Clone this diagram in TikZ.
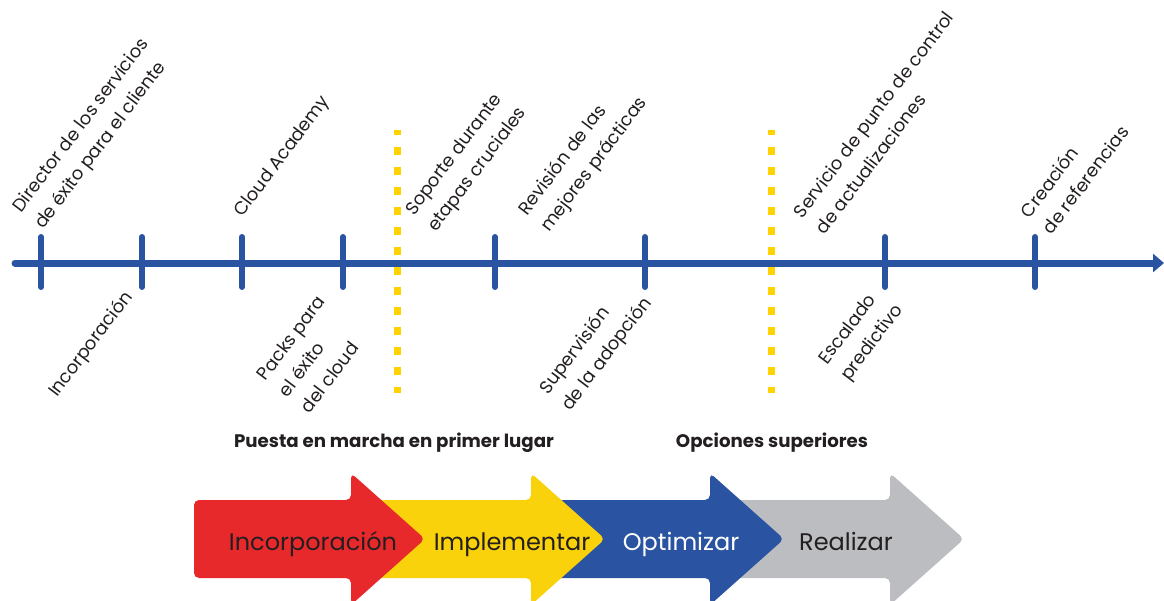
\documentclass[tikz,border=0pt]{standalone}
\usepackage{fontspec}
\setmainfont{Poppins}
\usetikzlibrary{arrows.meta}

\definecolor{tlblue}{HTML}{2A53A1}
\definecolor{tlred}{HTML}{E8292C}
\definecolor{tlyellow}{HTML}{FAD20C}
\definecolor{tlgray}{HTML}{BCBDC0}
\definecolor{tltext}{HTML}{231F20}
\definecolor{tldash}{HTML}{FFD200}

\begin{document}
\begin{tikzpicture}[x=1pt, y=-1pt,
    toplabel/.style={rotate=53, anchor=south west, inner sep=0pt, align=left,
      text=tltext, font=\fontsize{18}{27.5}\selectfont},
    heading/.style={anchor=base, inner sep=0pt, text=tltext,
      font=\bfseries\fontsize{18.2}{20}\selectfont},
    chevtext/.style={anchor=base, inner sep=0pt, text=tltext,
      font=\fontsize{24}{26}\selectfont}]
  \clip (0,0) rectangle (1164,600);

  % Phase separators
  \foreach \x in {397,771}
    \draw[tldash, line width=7pt, dash pattern=on 8pt off 12pt, dash phase=3pt] (\x,130) -- (\x,393);

  % Time line and ticks
  \draw[tlblue, line width=7pt, line cap=round, -{Triangle[length=11pt,width=18pt]}] (15,263) -- (1164,263);
  \foreach \x in {41,142,242,343,495,645,885,1035}
    \draw[tlblue, line width=6pt, line cap=round] (\x,237) -- (\x,287);

  % Labels above the line
  \node[toplabel] (director) at (47,233) {Director de los servicios\\de éxito para el cliente};
  \node[toplabel] (academy) at (246,221) {Cloud Academy};
  \node[toplabel] (soporte) at (440,236) {Soporte durante\\etapas cruciales};
  \node[toplabel] (revision) at (553,236) {Revisión de las\\mejores prácticas};
  \node[toplabel] (servicio) at (825,236) {Servicio de punto de control\\de actualizaciones};
  \node[toplabel] (creacion) at (1052,236) {Creación\\de referencias};

  % Labels below the line
  \node[toplabel] (incorp) at (61,401) {Incorporación};
  \node[toplabel] (packs) at (310,415) {Packs para\\el éxito\\del cloud};
  \node[toplabel] (supervision) at (574,415) {Supervisión\\de la adopción};
  \node[toplabel] (escalado) at (853,385) {Escalado\\predictivo};

  % Phase headings
  \node[heading] (puesta) at (394,447) {Puesta en marcha en primer lugar};
  \node[heading] (opciones) at (772,447) {Opciones superiores};

  % Chevrons, drawn right to left so each head lies on the next one
  \foreach \h/\l/\c in {890/710/tlgray, 710/531/tlblue, 531/351/tlyellow, 351/194/tlred}
    \fill[\c, rounded corners=5pt] (\l,500) -- (\h,500) -- (\h,473) -- ({\h+74},539)
      -- (\h,605) -- (\h,578) -- (\l,578) -- cycle;
  \node[chevtext] (stepa) at (313,550) {Incorporación};
  \node[chevtext] (stepb) at (512,550) {Implementar};
  \node[chevtext, text=white] (stepc) at (681,550) {Optimizar};
  \node[chevtext] (stepd) at (846,550) {Realizar};
\end{tikzpicture}
\end{document}
